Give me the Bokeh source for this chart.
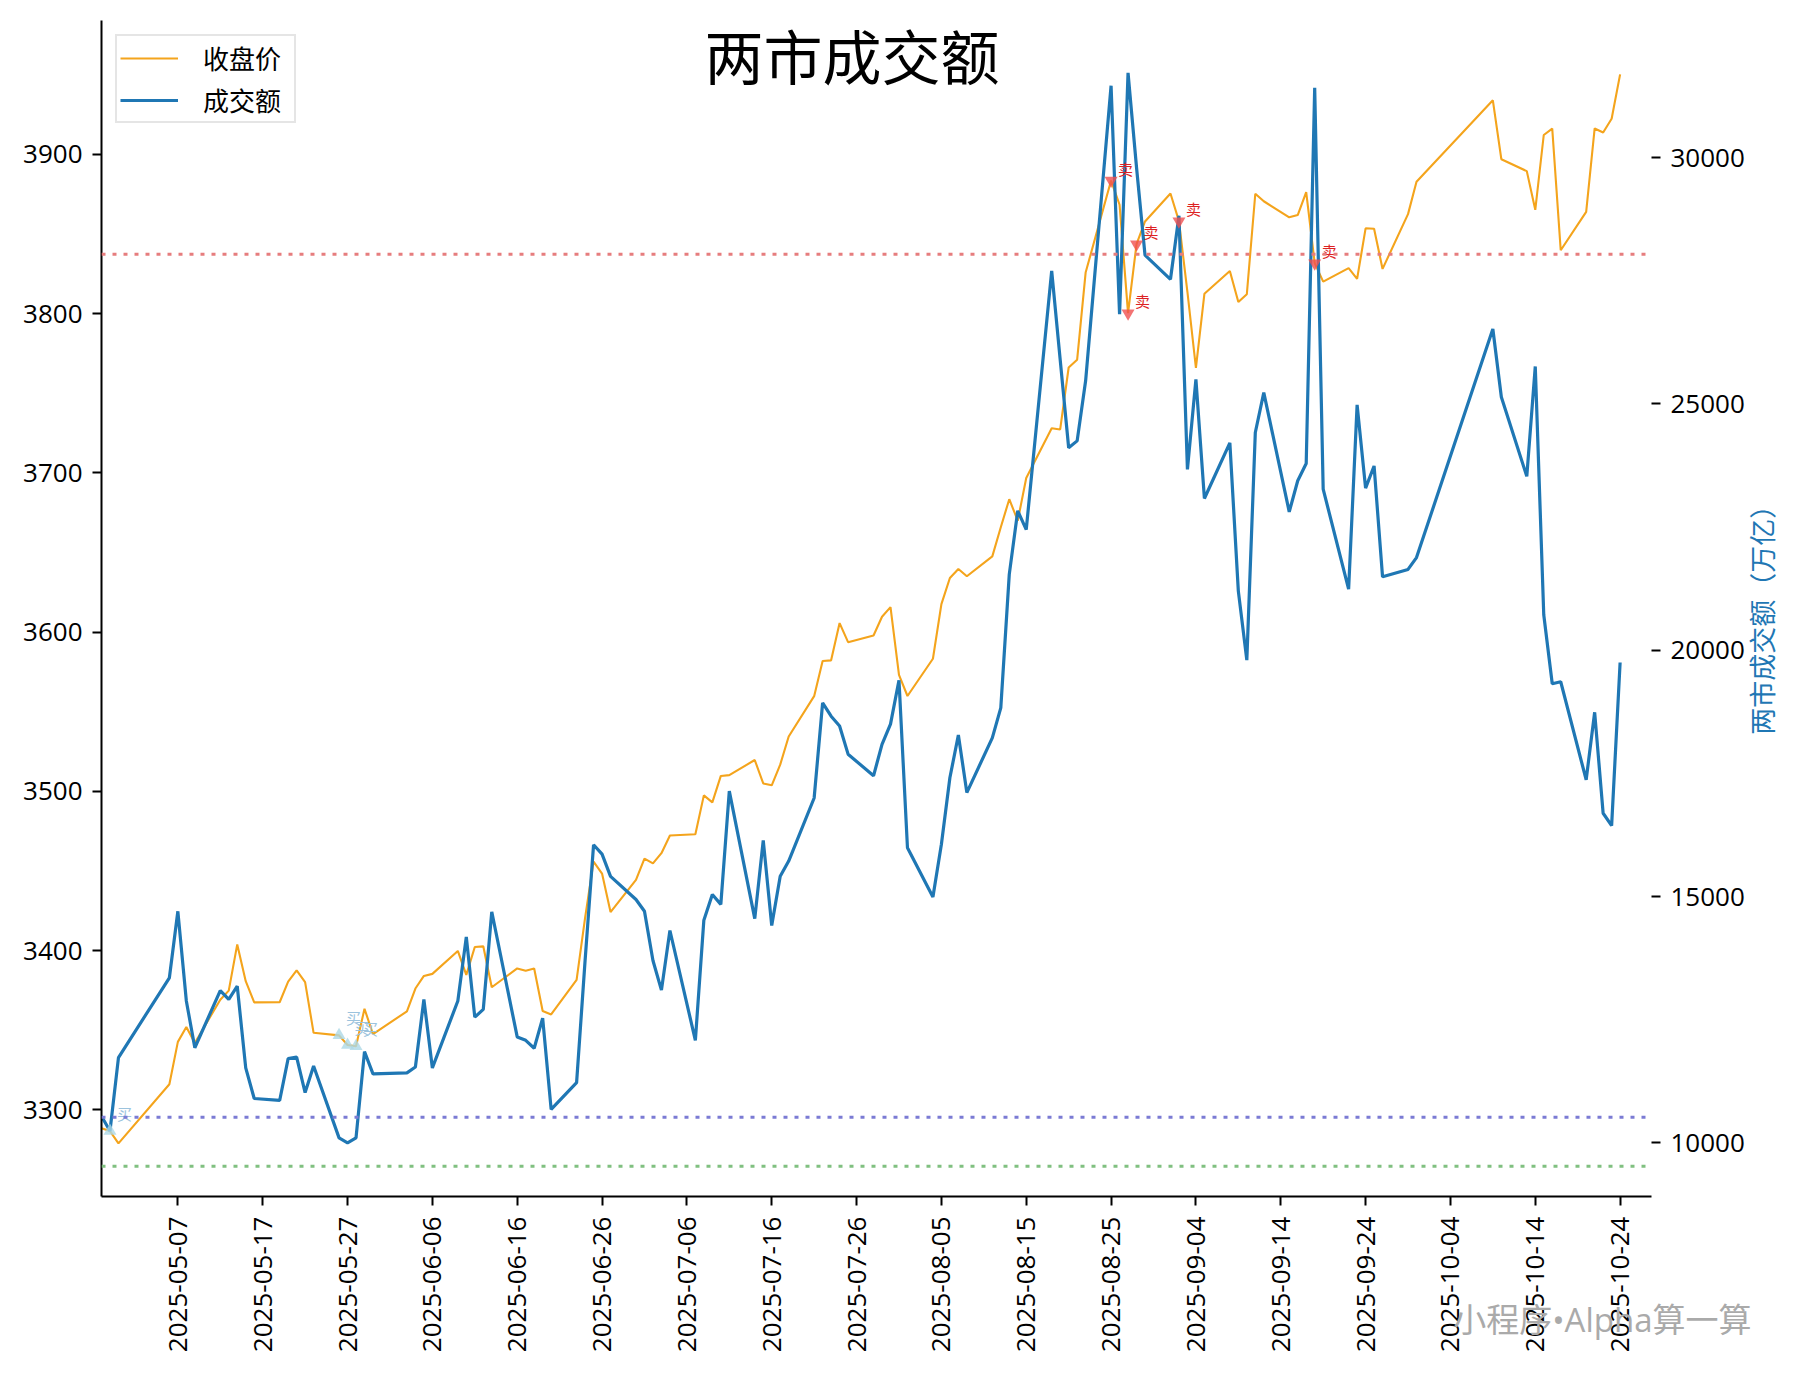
import math
import pandas as pd
from bokeh.plotting import figure
from bokeh.models import (ColumnDataSource, Range1d, LinearAxis, FixedTicker, Title,
                          DatetimeTickFormatter, Span, Label, Legend, LegendItem)
from bokeh.core.properties import value
from bokeh.embed import file_html
from bokeh.resources import INLINE

# trading days
dates = [
    "2025-04-28", "2025-04-29", "2025-04-30",
    "2025-05-06", "2025-05-07", "2025-05-08", "2025-05-09",
    "2025-05-12", "2025-05-13", "2025-05-14", "2025-05-15", "2025-05-16",
    "2025-05-19", "2025-05-20", "2025-05-21", "2025-05-22", "2025-05-23",
    "2025-05-26", "2025-05-27", "2025-05-28", "2025-05-29", "2025-05-30",
    "2025-06-03", "2025-06-04", "2025-06-05", "2025-06-06",
    "2025-06-09", "2025-06-10", "2025-06-11", "2025-06-12", "2025-06-13",
    "2025-06-16", "2025-06-17", "2025-06-18", "2025-06-19", "2025-06-20",
    "2025-06-23", "2025-06-24", "2025-06-25", "2025-06-26", "2025-06-27",
    "2025-06-30",
    "2025-07-01", "2025-07-02", "2025-07-03", "2025-07-04",
    "2025-07-07", "2025-07-08", "2025-07-09", "2025-07-10", "2025-07-11",
    "2025-07-14", "2025-07-15", "2025-07-16", "2025-07-17", "2025-07-18",
    "2025-07-21", "2025-07-22", "2025-07-23", "2025-07-24", "2025-07-25",
    "2025-07-28", "2025-07-29", "2025-07-30", "2025-07-31",
    "2025-08-01",
    "2025-08-04", "2025-08-05", "2025-08-06", "2025-08-07", "2025-08-08",
    "2025-08-11", "2025-08-12", "2025-08-13", "2025-08-14", "2025-08-15",
    "2025-08-18", "2025-08-19", "2025-08-20", "2025-08-21", "2025-08-22",
    "2025-08-25", "2025-08-26", "2025-08-27", "2025-08-28", "2025-08-29",
    "2025-09-01", "2025-09-02", "2025-09-03", "2025-09-04", "2025-09-05",
    "2025-09-08", "2025-09-09", "2025-09-10", "2025-09-11", "2025-09-12",
    "2025-09-15", "2025-09-16", "2025-09-17", "2025-09-18", "2025-09-19",
    "2025-09-22", "2025-09-23", "2025-09-24", "2025-09-25", "2025-09-26",
    "2025-09-29", "2025-09-30",
    "2025-10-09", "2025-10-10",
    "2025-10-13", "2025-10-14", "2025-10-15", "2025-10-16", "2025-10-17",
    "2025-10-20", "2025-10-21", "2025-10-22", "2025-10-23", "2025-10-24",
]

# 收盘价
close = [
    3288.4, 3286.7, 3279.0,
    3316.1, 3342.7, 3352.0, 3342.0,
    3369.2, 3374.9, 3403.9, 3380.8, 3367.5,
    3367.6, 3380.5, 3387.6, 3380.2, 3348.4,
    3346.8, 3340.7, 3339.9, 3363.5, 3347.5,
    3361.9, 3376.2, 3384.1, 3385.4,
    3399.8, 3384.8, 3402.3, 3402.7, 3377.0,
    3388.8, 3387.4, 3388.8, 3362.1, 3359.9,
    3381.6, 3420.6, 3455.9, 3448.4, 3424.2,
    3444.4,
    3457.8, 3454.8, 3461.2, 3472.3,
    3473.1, 3497.5, 3493.1, 3509.7, 3510.2,
    3519.7, 3505.0, 3503.8, 3516.8, 3534.5,
    3559.8, 3581.9, 3582.3, 3605.7, 3593.7,
    3597.9, 3609.7, 3615.7, 3573.2,
    3559.9,
    3583.3, 3617.6, 3634.0, 3639.7, 3635.1,
    3647.6, 3665.9, 3683.5, 3670.0, 3696.8,
    3728.0, 3727.3, 3766.2, 3771.1, 3825.8,
    3883.6, 3868.4, 3800.3, 3843.6, 3857.9,
    3875.5, 3858.1, 3813.6, 3765.9, 3812.5,
    3826.8, 3807.3, 3812.2, 3875.3, 3870.6,
    3860.5, 3861.9, 3876.3, 3831.7, 3820.1,
    3828.6, 3821.8, 3853.6, 3853.3, 3828.1,
    3862.5, 3882.8,
    3934.0, 3897.0,
    3889.5, 3865.2, 3912.2, 3916.2, 3839.8,
    3863.9, 3916.3, 3913.8, 3922.4, 3950.3,
]

# 两市成交额（亿）
volume = [
    10540, 10240, 11730,
    13350, 14700, 12880, 11930,
    13090, 12910, 13180, 11520, 10900,
    10860, 11710, 11740, 11020, 11560,
    10100, 10000, 10100, 11850, 11400,
    11420, 11540, 12910, 11520,
    12880, 14180, 12550, 12710, 14690,
    12150, 12080, 11920, 12530, 10680,
    11220, 13700, 16050, 15860, 15410,
    14940,
    14700, 13700, 13100, 14310,
    12080, 14520, 15040, 14840, 17140,
    14550, 16140, 14410, 15410, 15720,
    17000, 18930, 18660, 18460, 17890,
    17450, 18090, 18500, 19390,
    15990,
    14990, 16060, 17410, 18280, 17110,
    18220, 18830, 21540, 22830, 22450,
    27700, 25900, 24110, 24250, 25470,
    31460, 26820, 31720, 29800, 28020,
    27530, 28820, 23670, 25500, 23080,
    24210, 21200, 19800, 24420, 25230,
    22810, 23440, 23790, 31420, 23270,
    21240, 24980, 23290, 23740, 21490,
    21640, 21880,
    26520, 25140,
    23530, 25760, 20720, 19320, 19360,
    17370, 18740, 16690, 16440, 19750,
]

# 买卖信号
buy_dates = ["2025-04-29", "2025-05-26", "2025-05-27", "2025-05-28"]
sell_dates = ["2025-08-25", "2025-08-27", "2025-08-28", "2025-09-02", "2025-09-18"]

# 水平参考线
level_high = 3837.3
level_mid = 3295.4
level_low = 3264.6

tick_dates = ["2025-05-07", "2025-05-17", "2025-05-27", "2025-06-06", "2025-06-16",
              "2025-06-26", "2025-07-06", "2025-07-16", "2025-07-26", "2025-08-05",
              "2025-08-15", "2025-08-25", "2025-09-04", "2025-09-14", "2025-09-24",
              "2025-10-04", "2025-10-14", "2025-10-24"]
price_ticks = [3300, 3400, 3500, 3600, 3700, 3800, 3900]
vol_ticks = [10000, 15000, 20000, 25000, 30000]
vol_label = "两市成交额（万亿）"
vol_label_at = 18285  # 右轴标题下端所在的成交额坐标

ORANGE = "#f4a41c"
BLUE = "#1f77b4"
CJK = "Noto Sans CJK SC"
NUM = "Open Sans"
MIXED = "'Open Sans', 'Noto Sans CJK SC'"


def ms(d):
    return pd.Timestamp(d).value / 1e6


dt = pd.to_datetime(dates)
src = ColumnDataSource(dict(date=dt, close=close, vol=volume))
lookup = dict(zip(dates, close))
buy_src = ColumnDataSource(dict(date=pd.to_datetime(buy_dates), y=[lookup[d] for d in buy_dates],
                                t=["买"] * len(buy_dates)))
sell_src = ColumnDataSource(dict(date=pd.to_datetime(sell_dates), y=[lookup[d] for d in sell_dates],
                                 t=["卖"] * len(sell_dates)))

x0 = ms(dates[0])
x1 = x0 + 182.7 * 86400000

p = figure(width=1806, height=1376, x_axis_type="datetime",
           x_range=Range1d(x0, x1), y_range=Range1d(3245.6, 3984.1),
           output_backend="svg", toolbar_location=None, title=None,
           min_border_left=101, min_border_right=155, min_border_top=20, min_border_bottom=180)
p.outline_line_color = None
p.grid.visible = False
p.extra_y_ranges = {"vol": Range1d(8910, 32784)}

# 轴
xax = p.xaxis[0]
xax.ticker = FixedTicker(ticks=[ms(d) for d in tick_dates])
xax.formatter = DatetimeTickFormatter(days="%Y-%m-%d", months="%Y-%m-%d", years="%Y-%m-%d")
xax.major_label_orientation = math.pi / 2

yax = p.yaxis[0]
yax.ticker = FixedTicker(ticks=price_ticks)

vax = LinearAxis(y_range_name="vol", ticker=FixedTicker(ticks=vol_ticks))
p.add_layout(vax, "right")
vax.axis_line_color = None

for ax in (xax, yax, vax):
    ax.major_label_text_font = NUM
    ax.major_label_text_font_size = "26px"
    ax.major_label_text_color = "black"
    ax.major_tick_out = 9
    ax.major_tick_in = 0
    ax.major_tick_line_width = 2
    ax.minor_tick_line_color = None
    ax.major_label_standoff = 10
xax.axis_line_width = 2
yax.axis_line_width = 2
xax.major_label_standoff = 11

# 右轴标题：用一个只有一个刻度的附加轴来放置（竖排、自下而上）
tax = LinearAxis(y_range_name="vol", ticker=FixedTicker(ticks=[vol_label_at]),
                 major_label_overrides={vol_label_at: vol_label})
p.add_layout(tax, "right")
tax.axis_line_color = None
tax.major_tick_line_color = None
tax.minor_tick_line_color = None
tax.major_tick_out = 0
tax.major_tick_in = 0
tax.major_label_orientation = math.pi / 2
tax.major_label_standoff = 14
tax.major_label_text_font = CJK
tax.major_label_text_font_size = "27px"
tax.major_label_text_color = BLUE

# 参考线
for lvl, col in ((level_high, "#e67d7e"), (level_mid, "#7b7bd4"), (level_low, "#80c080")):
    p.add_layout(Span(location=lvl, dimension="width", line_color=col,
                      line_width=3, line_dash="4 7"))

# 线
r_close = p.line("date", "close", source=src, line_color=ORANGE, line_width=2.1)
r_vol = p.line("date", "vol", source=src, line_color=BLUE, line_width=3.2, y_range_name="vol")

# 买卖点
p.scatter("date", "y", source=buy_src, marker="triangle", size=13,
          fill_color="#add8e6", fill_alpha=0.8, line_color=None)
p.text("date", "y", text="t", source=buy_src, x_offset=7, y_offset=-7,
       text_font=value(CJK), text_font_size="15px", text_color="#9cc3dd",
       text_baseline="bottom", text_align="left")
p.scatter("date", "y", source=sell_src, marker="inverted_triangle", size=13,
          fill_color="#f05050", fill_alpha=0.8, line_color=None)
p.text("date", "y", text="t", source=sell_src, x_offset=7, y_offset=-2,
       text_font=value(CJK), text_font_size="15px", text_color="#dd2222",
       text_baseline="bottom", text_align="left")

# 图例
legend = Legend(items=[LegendItem(label="收盘价", renderers=[r_close]),
                       LegendItem(label="成交额", renderers=[r_vol])],
                location="top_left")
legend.label_text_font = CJK
legend.label_text_font_size = "26px"
legend.label_text_color = "black"
legend.glyph_width = 58
legend.glyph_height = 30
legend.label_height = 30
legend.label_width = 88
legend.label_standoff = 25
legend.spacing = 5
legend.padding = 3
legend.margin = 14
legend.border_line_color = "#cccccc"
legend.border_line_width = 2
legend.background_fill_alpha = 0.8
p.add_layout(legend)

# 标题
p.add_layout(Label(x=750.6, y=1142.5, x_units="screen", y_units="screen",
                   text="两市成交额", text_font=CJK, text_font_size="59px", text_color="black",
                   text_align="center", text_baseline="middle"))

# 水印（放在下方面板，避免被绘图区裁剪）
watermark = Title(text="小程序•Alpha算一算", align="right", vertical_align="top",
                  standoff=-118, offset=-100, text_font=MIXED, text_font_size="33px",
                  text_font_style="normal", text_color="#aaaaaa")
p.add_layout(watermark, "below")

open("out.html", "w").write(file_html(p, INLINE))
